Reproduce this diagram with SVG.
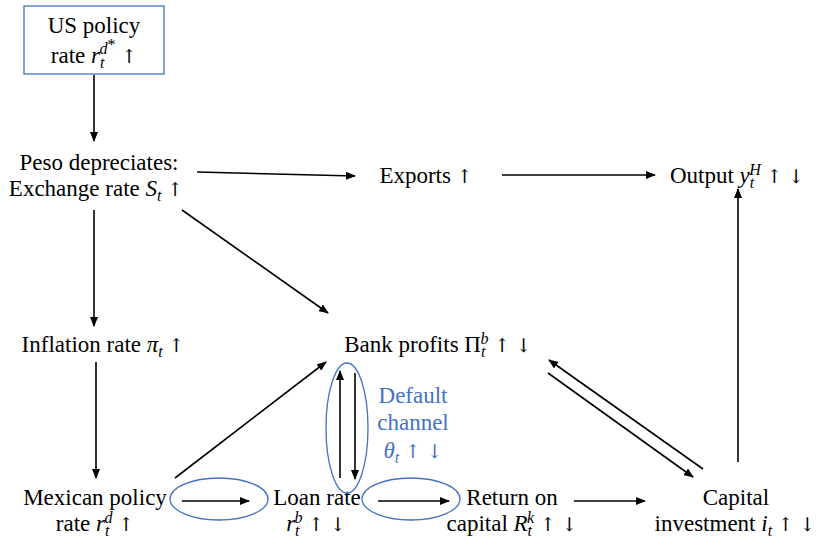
<svg xmlns="http://www.w3.org/2000/svg" width="816" height="545" viewBox="0 0 816 545" font-family="Liberation Serif, Tinos, Times New Roman, DejaVu Serif, serif">
<defs>
<marker id="ah" markerWidth="10" markerHeight="8" refX="9" refY="4" orient="auto" markerUnits="userSpaceOnUse">
<path d="M0,0 L10,4 L0,8 z" fill="#000"/>
</marker>
<style>
text{font-size:23px;fill:#000;text-anchor:middle}
.blue{fill:#4472C4}
.i{font-style:italic}
.s{font-size:16px}
.a{font-family:'DejaVu Serif',serif;font-size:19px;font-variant-emoji:text}
.c line{stroke:#000;stroke-width:1.6;marker-end:url(#ah)}
.el{fill:none;stroke:#4472C4;stroke-width:1.3}
</style>
</defs>
<rect width="816" height="545" fill="#fff"/>

<g id="us">
<rect x="24" y="6" width="140" height="68" fill="#fff" stroke="#4472C4" stroke-width="1.3"/>
<text x="94" y="33">US policy</text>
<text x="94" y="63">rate <tspan class="i">r</tspan><tspan class="i s" dy="5">t</tspan><tspan class="i s" dx="-5" dy="-14">d</tspan><tspan class="s" dy="-4">*</tspan><tspan dy="13"> <tspan class="a">↑</tspan></tspan></text>
</g>

<g id="peso">
<text x="99" y="170">Peso depreciates:</text>
<text x="96" y="196">Exchange rate <tspan class="i">S</tspan><tspan class="i s" dy="5">t</tspan><tspan dy="-5"> <tspan class="a">↑</tspan></tspan></text>
</g>

<g id="exports"><text x="426" y="183">Exports <tspan class="a">↑</tspan></text></g>

<g id="output"><text x="737" y="183">Output <tspan class="i">y</tspan><tspan class="i s" dy="5">t</tspan><tspan class="i s" dx="-5" dy="-13">H</tspan><tspan dy="8"> <tspan class="a">↑</tspan> <tspan class="a">↓</tspan></tspan></text></g>

<g id="inflation"><text x="103" y="352">Inflation rate <tspan class="i">π</tspan><tspan class="i s" dy="5">t</tspan><tspan dy="-5"> <tspan class="a">↑</tspan></tspan></text></g>

<g id="bank"><text x="438" y="352">Bank profits Π<tspan class="i s" dy="5">t</tspan><tspan class="i s" dx="-5" dy="-13">b</tspan><tspan dy="8"> <tspan class="a">↑</tspan> <tspan class="a">↓</tspan></tspan></text></g>

<g id="mexican">
<text x="95" y="505">Mexican policy</text>
<text x="95" y="531">rate <tspan class="i">r</tspan><tspan class="i s" dy="5">t</tspan><tspan class="i s" dx="-5" dy="-13">d</tspan><tspan dy="8"> <tspan class="a">↑</tspan></tspan></text>
</g>

<g id="loan">
<text x="317" y="505">Loan rate</text>
<text x="316" y="531"><tspan class="i">r</tspan><tspan class="i s" dy="5">t</tspan><tspan class="i s" dx="-5" dy="-13">b</tspan><tspan dy="8"> <tspan class="a">↑</tspan> <tspan class="a">↓</tspan></tspan></text>
</g>

<g id="default">
<text class="blue" x="413" y="403">Default</text>
<text class="blue" x="413" y="430">channel</text>
<text class="blue" x="413" y="458"><tspan class="i">θ</tspan><tspan class="i s" dy="5">t</tspan><tspan dy="-5"> <tspan class="a">↑</tspan> <tspan class="a">↓</tspan></tspan></text>
</g>

<g id="return">
<text x="512" y="505">Return on</text>
<text x="512" y="531">capital <tspan class="i">R</tspan><tspan class="i s" dy="5">t</tspan><tspan class="i s" dx="-5" dy="-13">k</tspan><tspan dy="8"> <tspan class="a">↑</tspan> <tspan class="a">↓</tspan></tspan></text>
</g>

<g id="capital">
<text x="736" y="505">Capital</text>
<text x="735" y="531">investment <tspan class="i">i</tspan><tspan class="i s" dy="5">t</tspan><tspan dy="-5"> <tspan class="a">↑</tspan> <tspan class="a">↓</tspan></tspan></text>
</g>

<g id="ellipses">
<ellipse class="el" cx="219" cy="499" rx="49" ry="21"/>
<ellipse class="el" cx="347" cy="428" rx="21" ry="65"/>
<ellipse class="el" cx="411" cy="499" rx="49" ry="21"/>
</g>

<g class="c" id="connectors">
<line x1="94" y1="75" x2="94" y2="141"/>
<line x1="197" y1="172" x2="355" y2="176"/>
<line x1="502" y1="175" x2="655" y2="175"/>
<line x1="182" y1="210" x2="328" y2="313"/>
<line x1="94" y1="210" x2="94" y2="326"/>
<line x1="96" y1="362" x2="96" y2="478"/>
<line x1="175" y1="478" x2="326" y2="362"/>
<line x1="182" y1="501" x2="249" y2="501"/>
<line x1="340" y1="478" x2="340" y2="371"/>
<line x1="355" y1="373" x2="355" y2="479"/>
<line x1="378" y1="501" x2="449" y2="501"/>
<line x1="574" y1="501" x2="645" y2="501"/>
<line x1="738" y1="462" x2="738" y2="189"/>
<line x1="703" y1="469" x2="549" y2="360"/>
<line x1="548" y1="373" x2="693" y2="477"/>
</g>
</svg>
